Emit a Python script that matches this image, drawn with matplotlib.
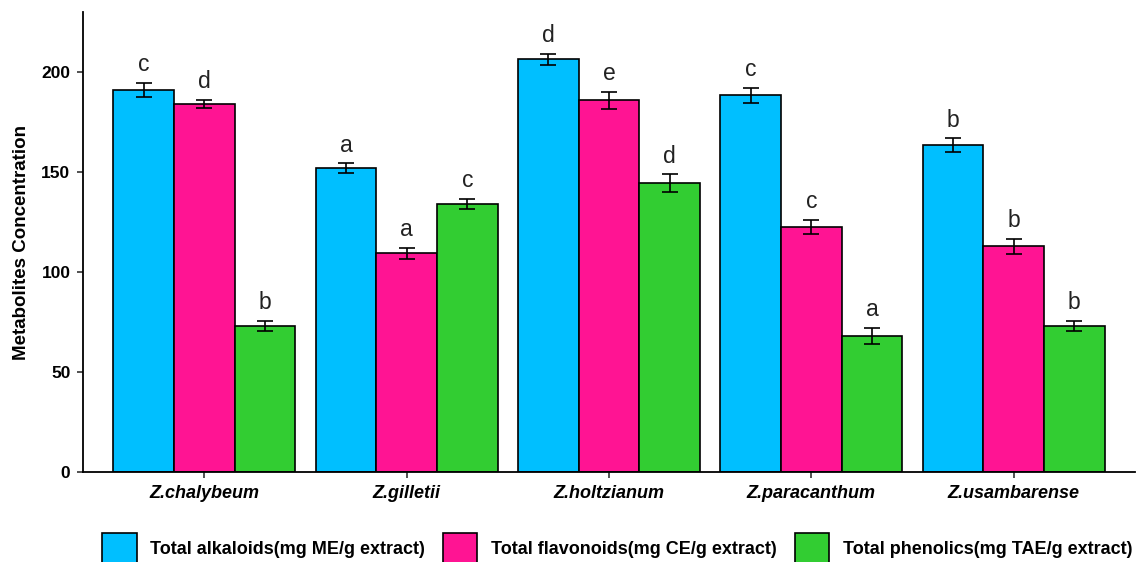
import numpy as np
import matplotlib
matplotlib.use("Agg")
from matplotlib import pyplot as plt

plt.rcParams['font.family'] = ['Liberation Sans', 'DejaVu Sans']

species = ["Z.chalybeum", "Z.gilletii", "Z.holtzianum", "Z.paracanthum", "Z.usambarense"]
series_names = ["Total alkaloids(mg ME/g extract)",
                "Total flavonoids(mg CE/g extract)",
                "Total phenolics(mg TAE/g extract)"]

alkaloids = [191, 152, 206.5, 188.5, 163.5]
flavonoids = [184, 109.5, 186, 122.5, 113]
phenolics = [73, 134, 144.5, 68, 73]

alkaloids_err = [3.5, 2.4, 2.6, 3.7, 3.4]
flavonoids_err = [2.0, 2.8, 4.1, 3.4, 3.8]
phenolics_err = [2.4, 2.6, 4.4, 4.1, 2.5]

alkaloids_sig = ["c", "a", "d", "c", "b"]
flavonoids_sig = ["d", "a", "e", "c", "b"]
phenolics_sig = ["b", "c", "d", "a", "b"]

colors = ["#00BFFF", "#FF1493", "#32CD32"]

values = [alkaloids, flavonoids, phenolics]
errors = [alkaloids_err, flavonoids_err, phenolics_err]
letters = [alkaloids_sig, flavonoids_sig, phenolics_sig]

fig = plt.figure(figsize=(11.43, 5.62), dpi=100)
ax = fig.add_axes([0.0726, 0.160, 0.9204, 0.818])

x = np.arange(1, len(species) + 1)
width = 0.3
for i in range(3):
    pos = x + (i - 1) * width
    ax.bar(pos, values[i], width, color=colors[i], edgecolor="black",
           linewidth=1.2, label=series_names[i], zorder=2)
    ax.errorbar(pos, values[i], yerr=errors[i], fmt="none", ecolor="black",
                elinewidth=1.2, capsize=5.5, capthick=1.2, zorder=3)
    for p, v, e, l in zip(pos, values[i], errors[i], letters[i]):
        ax.annotate(l, (p, v + e), xytext=(0, 5), textcoords="offset points",
                    ha="center", va="bottom", fontsize=16.5, color="#222222")

ax.set_xlim(0.4, 5.6)
ax.set_ylim(0, 230)
ax.set_yticks([0, 50, 100, 150, 200])
ax.set_xticks(x)
ax.set_xticklabels(species, fontsize=13, fontweight="bold", fontstyle="italic")
for t in ax.get_yticklabels():
    t.set_fontsize(12.5)
    t.set_fontweight("bold")
ax.set_ylabel("Metabolites Concentration", fontsize=13.5, fontweight="bold", labelpad=8)

ax.spines["top"].set_visible(False)
ax.spines["right"].set_visible(False)
ax.spines["left"].set_linewidth(1.3)
ax.spines["bottom"].set_linewidth(1.3)
ax.tick_params(axis="both", length=4, width=1.2, color="#333333", pad=5)

fig.legend(loc="center", bbox_to_anchor=(0.540, 0.024), ncol=3, frameon=False,
           prop={"weight": "bold", "size": 13},
           handlelength=1.9, handleheight=2.3, handletextpad=0.75, columnspacing=1.0,
           borderpad=0.2, borderaxespad=0.0)

fig.savefig("out.png", dpi=100)
